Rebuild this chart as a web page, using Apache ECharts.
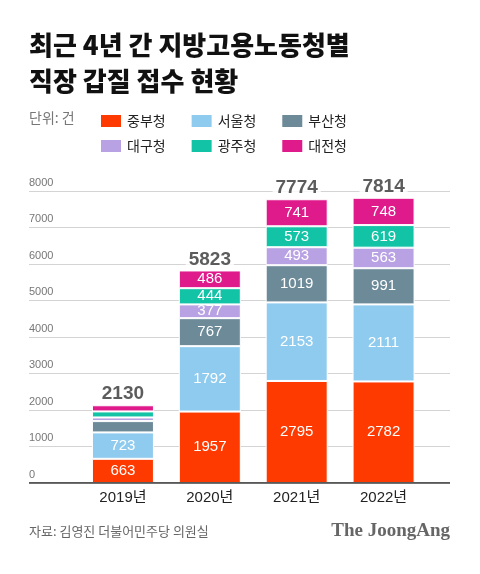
<!DOCTYPE html>
<html><head><meta charset="utf-8">
<script src="https://cdn.jsdelivr.net/npm/echarts@6/dist/echarts.min.js"></script>
<style>html,body{margin:0;padding:0;background:#fff}#c{width:480px;height:574px}</style>
</head><body><div id="c"></div>
<script>
var categories = ['2019년', '2020년', '2021년', '2022년'];
var seriesNames = ['중부청', '서울청', '부산청', '대구청', '광주청', '대전청'];
var jungbu = [663, 1957, 2795, 2782];
var seoul = [723, 1792, 2153, 2111];
var busan = [310, 767, 1019, 991];
var daegu = [100, 377, 493, 563];
var gwangju = [165, 444, 573, 619];
var daejeon = [169, 486, 741, 748];
var yTicks = [0, 1000, 2000, 3000, 4000, 5000, 6000, 7000, 8000];

var values = [jungbu, seoul, busan, daegu, gwangju, daejeon];
var colors = ['#FF3A00', '#8FCBEE', '#6C8A98', '#B9A2E4', '#12C3A6', '#DF1A8B'];
var totals = categories.map(function (c, i) {
  return values.reduce(function (s, arr) { return s + arr[i]; }, 0);
});
var FONT = '"Liberation Sans", "Noto Sans CJK KR", sans-serif';
var KFONT = '"Noto Sans CJK KR", sans-serif';

var chart = echarts.init(document.getElementById('c'), null, {renderer: 'canvas'});
var series = seriesNames.map(function (n, k) {
  return {
    name: n, type: 'bar', stack: 'all', xAxisIndex: 1, yAxisIndex: 1,
    data: values[k], barWidth: 62,
    itemStyle: {color: colors[k], borderColor: '#fff', borderWidth: 1},
    label: {
      show: true, position: 'inside', color: '#fff', fontSize: 15, fontFamily: FONT,
      formatter: function (p) { return p.value < 350 ? '' : String(p.value); }
    }
  };
});
series.push({
  name: '합계', type: 'scatter', xAxisIndex: 1, yAxisIndex: 1,
  data: categories.map(function (c, i) { return [c, totals[i]]; }),
  symbol: 'circle', symbolSize: 1, itemStyle: {color: 'rgba(0,0,0,0)'}, z: 10, silent: true,
  label: {show: true, position: 'top', distance: 1, color: '#333', fontSize: 19,
    fontWeight: 'bold', fontFamily: FONT, backgroundColor: '#fff', padding: [0, 3],
    formatter: function (p) { return String(p.value[1]); }}
});

var legendCommon = {
  itemWidth: 22, itemHeight: 14, itemGap: 24, icon: 'rect', selectedMode: false, padding: 0,
  textStyle: {fontSize: 14, color: '#222', fontFamily: KFONT}
};

chart.setOption({
  animation: false,
  backgroundColor: '#fff',
  title: {
    text: '최근 4년 간 지방고용노동청별\n직장 갑질 접수 현황',
    left: 24, top: 22,
    textStyle: {fontSize: 26, fontWeight: 900, color: '#111', lineHeight: 36, fontFamily: KFONT}
  },
  legend: [
    Object.assign({data: seriesNames.slice(0, 3), left: 99, top: 113}, legendCommon),
    Object.assign({data: seriesNames.slice(3, 6), left: 99, top: 138}, legendCommon)
  ],
  graphic: [
    {type: 'text', left: 29, top: 111, style: {text: '단위: 건', fill: '#777', font: '14px ' + KFONT}},
    {type: 'text', left: 29, top: 525, style: {text: '자료: 김영진 더불어민주당 의원실', fill: '#666', font: '13px ' + KFONT}},
    {type: 'text', right: 30, top: 522, style: {text: 'The JoongAng', fill: '#666', font: 'bold 19px "Liberation Serif", "DejaVu Serif", serif'}}
  ],
  grid: [
    {left: 29, right: 30, top: 191, bottom: 91},
    {left: 79.5, right: 53, top: 191, bottom: 91}
  ],
  xAxis: [
    {type: 'value', gridIndex: 0, min: 0, max: 1, show: true,
      axisLine: {show: false}, axisTick: {show: false}, axisLabel: {show: false}, splitLine: {show: false}},
    {type: 'category', gridIndex: 1, data: categories,
      axisLine: {show: false}, axisTick: {show: false},
      axisLabel: {color: '#222', fontSize: 15, margin: 7, fontFamily: FONT}}
  ],
  yAxis: [
    {type: 'value', gridIndex: 0, min: 0, max: 8000, interval: 1000,
      axisLine: {show: false}, axisTick: {show: false},
      axisLabel: {inside: true, margin: 0, verticalAlign: 'bottom', padding: [0, 0, 3, 0],
        color: '#777', fontSize: 11, fontFamily: FONT,
        formatter: function (v) { return String(v); }},
      splitLine: {lineStyle: {color: '#d4d4d4', width: 1}}},
    {type: 'value', gridIndex: 1, min: 0, max: 8000, interval: 1000, show: false,
      splitLine: {show: false}}
  ],
  series: series.concat([{
    type: 'line', xAxisIndex: 0, yAxisIndex: 0, data: [[0, 0], [1, 0]],
    symbol: 'none', silent: true, lineStyle: {color: '#222', width: 1.5}, z: 5
  }])
});
</script></body></html>
